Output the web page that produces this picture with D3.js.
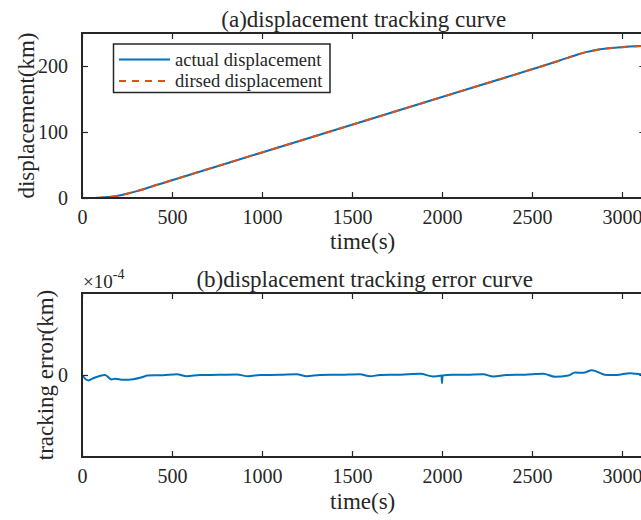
<!DOCTYPE html>
<html>
<head>
<meta charset="utf-8">
<script src="https://cdn.jsdelivr.net/npm/d3@7"></script>
<style>
  html, body { margin: 0; padding: 0; background: #fff; }
  svg { display: block; }
  text { font-family: "Liberation Serif", "Times New Roman", serif; fill: #262626; }
</style>
</head>
<body>
<svg id="chart" width="641" height="520"></svg>
<script>
// ---- data ----
const xTicks = [0, 500, 1000, 1500, 2000, 2500, 3000];
const dispTicks = [0, 100, 200];
const errTicks = [0];

const dispTime    = [0, 50, 100, 150, 200, 250, 300, 350, 400, 500, 1000, 1500, 2000, 2500, 2650, 2750, 2800, 2850, 2900, 3000, 3130];
const actualDisp  = [0, 0.1, 0.5, 1.5, 3.5, 6.5, 10, 14, 18.5, 27, 69, 111, 153, 195, 208, 217, 221, 224, 226, 228.5, 230.5];
const desiredDisp = [0, 0.1, 0.5, 1.5, 3.5, 6.5, 10, 14, 18.5, 27, 69, 111, 153, 195, 208, 217, 221, 224, 226, 228.5, 230.5];

// tracking error, in units of 1e-4 km
const errTime  = [0, 35, 63, 128, 165, 183, 229, 285, 322, 350, 360, 450, 526, 582, 656, 760, 859, 924, 989, 1100, 1193, 1248, 1322, 1440, 1544, 1600, 1656, 1770, 1878, 1952, 1990, 1997, 2000, 2003, 2060, 2140, 2228, 2285, 2359, 2460, 2563, 2628, 2702, 2739, 2785, 2832, 2915, 2970, 3044, 3106, 3130];
const errValue = [0, -0.067, -0.039, 0, -0.055, -0.046, -0.059, -0.051, -0.034, -0.015, -0.006, -0.002, 0.01, -0.015, 0, 0.002, 0.006, -0.015, 0, 0.003, 0.01, -0.015, 0, 0.003, 0.01, -0.015, 0, 0.004, 0.015, -0.018, -0.01, -0.005, -0.1, -0.005, 0.002, 0.004, 0.01, -0.018, 0, 0.004, 0.015, -0.022, -0.006, 0.03, 0.027, 0.059, 0, 0, 0.022, 0.01, 0.01];

// ---- layout ----
const svg = d3.select("#chart");
const left = 82, right = 645.4;
const top1 = 33, bot1 = 198;
const top2 = 293, bot2 = 457;
const blue = "#0072BD", orange = "#D95319", axisCol = "#262626";

const x = d3.scaleLinear().domain([0, 3130]).range([left, right]);
const y1 = d3.scaleLinear().domain([0, 250]).range([bot1, top1]);
const y2 = d3.scaleLinear().domain([-1, 1]).range([bot2, top2]);

const defs = svg.append("defs");
defs.append("clipPath").attr("id", "clip1").append("rect")
  .attr("x", left).attr("y", top1).attr("width", right - left).attr("height", bot1 - top1);
defs.append("clipPath").attr("id", "clip2").append("rect")
  .attr("x", left).attr("y", top2).attr("width", right - left).attr("height", bot2 - top2);

function styleAxis(g) {
  g.select(".domain").remove();
  g.selectAll(".tick line").attr("stroke", axisCol).attr("stroke-width", 1.2);
  g.selectAll(".tick text").attr("font-size", 20).attr("fill", axisCol)
    .style("font-family", "'Liberation Serif', serif");
}

function drawAxes(yScale, yTicks, top, bot) {
  // bottom x axis (ticks inward)
  svg.append("g").attr("transform", `translate(0,${bot})`)
    .call(d3.axisBottom(x).tickValues(xTicks).tickSizeInner(-6).tickSizeOuter(0).tickPadding(12).tickFormat(d3.format("d")))
    .call(styleAxis);
  // top x axis ticks
  svg.append("g").attr("transform", `translate(0,${top})`)
    .call(d3.axisTop(x).tickValues(xTicks).tickSizeInner(-6).tickSizeOuter(0).tickFormat(""))
    .call(styleAxis);
  // left y axis
  svg.append("g").attr("transform", `translate(${left},0)`)
    .call(d3.axisLeft(yScale).tickValues(yTicks).tickSizeInner(-6).tickSizeOuter(0).tickPadding(14).tickFormat(d3.format("d")))
    .call(styleAxis);
  // right y axis ticks
  svg.append("g").attr("transform", `translate(${right},0)`)
    .call(d3.axisRight(yScale).tickValues(yTicks).tickSizeInner(-6).tickSizeOuter(0).tickFormat(""))
    .call(styleAxis);
  // box
  svg.append("rect").attr("x", left).attr("y", top).attr("width", right - left).attr("height", bot - top)
    .attr("fill", "none").attr("stroke", axisCol).attr("stroke-width", 2);
}

// ---- top plot ----
const line1 = d3.line().x((d, i) => x(dispTime[i])).y(d => y1(d)).curve(d3.curveMonotoneX);
const g1 = svg.append("g").attr("clip-path", "url(#clip1)");
g1.append("path").datum(actualDisp).attr("d", line1)
  .attr("fill", "none").attr("stroke", blue).attr("stroke-width", 2);
g1.append("path").datum(desiredDisp).attr("d", line1)
  .attr("fill", "none").attr("stroke", orange).attr("stroke-width", 2).attr("stroke-dasharray", "8,6");
drawAxes(y1, dispTicks, top1, bot1);

// legend
const lg = svg.append("g");
lg.append("rect").attr("x", 113.5).attr("y", 44).attr("width", 216.5).attr("height", 48.5)
  .attr("fill", "#fff").attr("stroke", axisCol).attr("stroke-width", 1.5);
lg.append("line").attr("x1", 119).attr("x2", 170).attr("y1", 59.5).attr("y2", 59.5)
  .attr("stroke", blue).attr("stroke-width", 2);
lg.append("line").attr("x1", 119).attr("x2", 170).attr("y1", 81).attr("y2", 81)
  .attr("stroke", orange).attr("stroke-width", 2).attr("stroke-dasharray", "7,6");
lg.append("text").attr("x", 175).attr("y", 65.5).attr("font-size", 18.5).text("actual displacement");
lg.append("text").attr("x", 175).attr("y", 87).attr("font-size", 18.5).text("dirsed displacement");

// titles & labels top
svg.append("text").attr("x", (left + right) / 2).attr("y", 27).attr("text-anchor", "middle")
  .attr("font-size", 23).text("(a)displacement tracking curve");
svg.append("text").attr("x", (left + right) / 2 - 1).attr("y", 249).attr("text-anchor", "middle")
  .attr("font-size", 23).text("time(s)");
svg.append("text").attr("transform", `translate(34,${(top1 + bot1) / 2}) rotate(-90)`)
  .attr("text-anchor", "middle").attr("font-size", 23).text("displacement(km)");

// ---- bottom plot ----
const line2 = d3.line().x((d, i) => x(errTime[i])).y(d => y2(d)).curve(d3.curveMonotoneX);
svg.append("g").attr("clip-path", "url(#clip2)")
  .append("path").datum(errValue).attr("d", line2)
  .attr("fill", "none").attr("stroke", blue).attr("stroke-width", 2);
drawAxes(y2, errTicks, top2, bot2);

svg.append("text").attr("x", (left + right) / 2 + 1).attr("y", 287).attr("text-anchor", "middle")
  .attr("font-size", 23).text("(b)displacement tracking error curve");
svg.append("text").attr("x", (left + right) / 2 - 1).attr("y", 509).attr("text-anchor", "middle")
  .attr("font-size", 23).text("time(s)");
svg.append("text").attr("transform", `translate(53,${(top2 + bot2) / 2}) rotate(-90)`)
  .attr("text-anchor", "middle").attr("font-size", 23).text("tracking error(km)");
const ex = svg.append("text").attr("x", 83).attr("y", 288).attr("font-size", 19);
ex.append("tspan").text("\u00d710");
ex.append("tspan").attr("dy", -9).attr("font-size", 14).text("-4");
</script>
</body>
</html>
